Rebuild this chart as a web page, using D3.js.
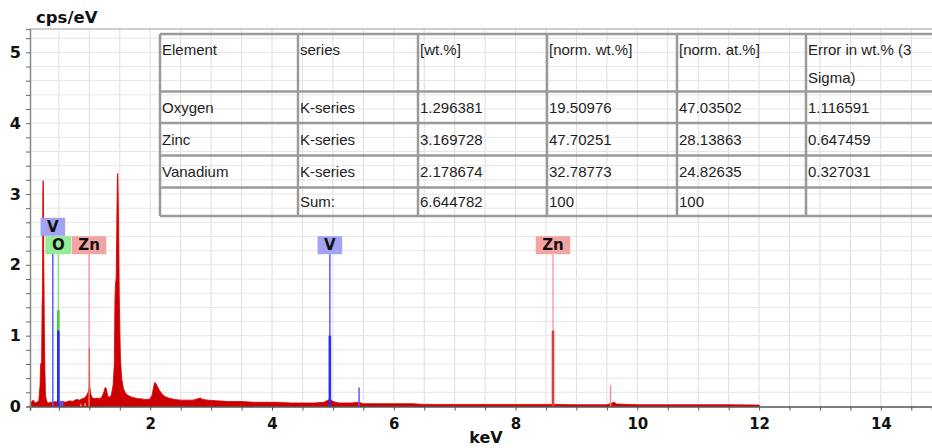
<!DOCTYPE html>
<html>
<head>
<meta charset="utf-8">
<script src="https://cdn.jsdelivr.net/npm/d3@7"></script>
<style>
  body { margin: 0; background: #fff; }
  svg { display: block; }
</style>
</head>
<body>
<div id="chart"></div>
<script>
// Spectrum (energy in keV, intensity in cps/eV)
const specKeV = [0.025, 0.05, 0.08, 0.11, 0.14, 0.17, 0.19, 0.20, 0.215, 0.225, 0.23, 0.235, 0.24, 0.245, 0.25, 0.26, 0.27, 0.28, 0.30,
  0.33, 0.36, 0.40, 0.44, 0.48, 0.52, 0.56, 0.60, 0.64, 0.68, 0.72, 0.76, 0.80, 0.84, 0.88, 0.92, 0.95, 0.98, 0.99, 0.995, 1.0, 1.005,
  1.02, 1.05, 1.09, 1.13, 1.17, 1.21, 1.24, 1.26, 1.28, 1.30, 1.33, 1.36, 1.39, 1.41, 1.42, 1.43, 1.44, 1.45, 1.46, 1.465, 1.47, 1.48,
  1.49, 1.50, 1.51, 1.53, 1.56, 1.60, 1.65, 1.70, 1.75, 1.80, 1.85, 1.90, 1.95, 2.00, 2.03, 2.05, 2.07, 2.09, 2.12, 2.15, 2.19, 2.24,
  2.30, 2.40, 2.50, 2.60, 2.70, 2.78, 2.82, 2.86, 2.95, 3.1, 3.3, 3.5, 3.7, 3.9, 4.1, 4.3, 4.5, 4.7, 4.85, 4.92, 4.96, 5.0, 5.1, 5.3,
  5.43, 5.5, 5.7, 6.0, 6.3, 6.5, 7.0, 7.5, 8.0, 8.3, 8.6, 9.0, 9.5, 9.62, 9.66, 10.0, 10.5, 11.0, 11.5, 12.0, 12.01];
const specCps = [0.02, 0.07, 0.09, 0.05, 0.06, 0.08, 0.3, 0.6, 0.62, 1.5, 1.55, 3.0, 3.19, 3.1, 2.2, 1.2, 0.5, 0.15, 0.07,
  0.05, 0.06, 0.06, 0.07, 0.06, 0.06, 0.07, 0.06, 0.07, 0.08, 0.07, 0.09, 0.1, 0.09, 0.11, 0.12, 0.15, 0.2, 0.24, 0.3, 0.82, 0.3,
  0.18, 0.12, 0.11, 0.12, 0.11, 0.14, 0.21, 0.27, 0.25, 0.15, 0.13, 0.16, 0.3, 0.6, 1.5, 1.75, 1.8, 2.5, 3.25, 3.29, 3.2, 2.6,
  1.6, 1.1, 0.7, 0.4, 0.25, 0.18, 0.15, 0.13, 0.12, 0.11, 0.11, 0.1, 0.1, 0.11, 0.16, 0.25, 0.34, 0.33, 0.28, 0.23, 0.18, 0.14,
  0.12, 0.1, 0.09, 0.09, 0.09, 0.11, 0.12, 0.1, 0.09, 0.08, 0.07, 0.07, 0.06, 0.06, 0.06, 0.05, 0.05, 0.05, 0.06, 0.09, 0.1, 0.07, 0.05, 0.05,
  0.06, 0.04, 0.04, 0.04, 0.04, 0.03, 0.03, 0.03, 0.03, 0.03, 0.03, 0.025, 0.025, 0.06, 0.035, 0.025, 0.025, 0.025, 0.025, 0.02, 0];

// Fitted element lines (energy, height)
const lineEl = ["O", "V", "V", "V", "V", "V", "Zn", "Zn", "Zn", "Zn"];
const lineKeV = [0.49, 0.49, 0.53, 0.56, 4.95, 5.43, 8.615, 9.56, 0.86, 0.93];
const lineCps = [1.36, 1.07, 0.08, 0.08, 1.0, 0.27, 1.07, 0.3, 0.04, 0.05];

// Element markers with labels (label bottom in cps/eV)
const markEl = ["V", "O", "Zn", "V", "Zn"];
const markKeV = [0.40, 0.49, 0.995, 4.95, 8.615];
const markTop = [2.41, 2.15, 2.15, 2.15, 2.15];

// Quantification table
const tableHead = [["Element"], ["series"], ["[wt.%]"], ["[norm. wt.%]"], ["[norm. at.%]"], ["Error in wt.% (3", "Sigma)"]];
const elements = ["Oxygen", "Zinc", "Vanadium", ""];
const seriesCol = ["K-series", "K-series", "K-series", "Sum:"];
const wtPct = ["1.296381", "3.169728", "2.178674", "6.644782"];
const normWt = ["19.50976", "47.70251", "32.78773", "100"];
const normAt = ["47.03502", "28.13863", "24.82635", "100"];
const errWt = ["1.116591", "0.647459", "0.327031", ""];

const width = 932, height = 448;
const plotL = 30, plotR = 932, plotT = 29, plotB = 406.5;

const elColor = { V: "#2a2aff", O: "#3ad23a", Zn: "#e03a3a" };
const elThin = { V: "#5a5aff", O: "#6ee86e", Zn: "#f29090" };
const elBox = { V: "#a3a3f5", O: "#93ec93", Zn: "#f4a3a3" };

const svg = d3.select("#chart").append("svg")
    .attr("width", width)
    .attr("height", height);

const x = d3.scaleLinear().domain([0.025, 14.84]).range([plotL, plotR]);
const y = d3.scaleLinear().domain([0, 5.33]).range([plotB, plotT]);

// grid
const grid = svg.append("g");
grid.selectAll("line.v")
    .data(d3.range(0.5, 14.9, 0.5))
    .enter().append("line")
    .attr("x1", d => x(d)).attr("x2", d => x(d))
    .attr("y1", plotT).attr("y2", plotB)
    .attr("stroke", "#dedede").attr("stroke-width", 1);
grid.selectAll("line.h")
    .data(d3.range(1, 27).map(i => i * 0.2))
    .enter().append("line")
    .attr("x1", plotL).attr("x2", plotR)
    .attr("y1", d => y(d)).attr("y2", d => y(d))
    .attr("stroke", "#e6e6e6").attr("stroke-width", 1);
svg.append("line")
    .attr("x1", plotL).attr("x2", plotR).attr("y1", plotT).attr("y2", plotT)
    .attr("stroke", "#bdbdbd").attr("stroke-width", 1.5);

// table
const colX = [160, 298, 418, 547, 677, 806, 940];
const rowY = [34, 91.5, 123, 155.5, 187.5, 216];
const table = svg.append("g")
    .style("font-family", "'Liberation Sans', Arial, sans-serif")
    .style("font-size", "15px")
    .attr("fill", "#1e1e1e");
table.selectAll("line.r").data(rowY).enter().append("line")
    .attr("x1", colX[0]).attr("x2", colX[6])
    .attr("y1", d => d).attr("y2", d => d)
    .attr("stroke", "#9a9a9a").attr("stroke-width", 2.5);
table.selectAll("line.c").data(colX).enter().append("line")
    .attr("x1", d => d).attr("x2", d => d)
    .attr("y1", rowY[0]).attr("y2", rowY[5])
    .attr("stroke", "#9a9a9a").attr("stroke-width", 2.5);
tableHead.forEach((lines, c) => {
  lines.forEach((t, k) => {
    table.append("text")
        .attr("x", colX[c] + 2).attr("y", 55 + k * 28)
        .attr("textLength", null)
        .text(t);
  });
});
const bodyCols = [elements, seriesCol, wtPct, normWt, normAt, errWt];
bodyCols.forEach((col, c) => {
  col.forEach((t, r) => {
    table.append("text")
        .attr("x", colX[c] + 2)
        .attr("y", (rowY[r + 1] + rowY[r + 2]) / 2 + 5.5)
        .text(t);
  });
});

// spectrum
const spec = specKeV.map((k, i) => ({ k: k, c: specCps[i] }));
svg.append("path")
    .datum(spec)
    .attr("fill", "#cc0000")
    .attr("stroke", "#d40000")
    .attr("stroke-width", 0.8)
    .attr("d", d3.area().x(d => x(d.k)).y0(y(0)).y1(d => y(d.c)));

// marker drop lines from labels
markEl.forEach((el, i) => {
  svg.append("line")
      .attr("x1", x(markKeV[i])).attr("x2", x(markKeV[i]))
      .attr("y1", y(markTop[i])).attr("y2", y(0))
      .attr("stroke", elThin[el]).attr("stroke-width", el === "V" ? 1.5 : 1.2);
});

// fitted element lines
lineEl.forEach((el, i) => {
  svg.append("line")
      .attr("x1", x(lineKeV[i])).attr("x2", x(lineKeV[i]))
      .attr("y1", y(lineCps[i])).attr("y2", y(0))
      .attr("stroke", lineCps[i] > 0.5 ? elColor[el] : elThin[el])
      .attr("stroke-width", lineCps[i] > 0.5 ? 2.6 : 1.5);
});

// labels
markEl.forEach((el, i) => {
  const g = svg.append("g");
  const t = g.append("text")
      .attr("x", x(markKeV[i])).attr("y", y(markTop[i]) - 4)
      .attr("text-anchor", "middle")
      .style("font-family", "'DejaVu Sans', Verdana, sans-serif")
      .style("font-weight", "bold")
      .style("font-size", "15px")
      .attr("fill", "#111")
      .text(el);
  const w = t.node().getComputedTextLength() + 13;
  g.insert("rect", "text")
      .attr("x", x(markKeV[i]) - w / 2).attr("y", y(markTop[i]) - 18)
      .attr("width", w).attr("height", 18)
      .attr("fill", elBox[el]);
});

// axes
const xAxis = svg.append("g")
    .attr("transform", `translate(0,${plotB})`)
    .call(d3.axisBottom(x)
        .tickValues(d3.range(0.5, 14.9, 0.5))
        .tickSize(4)
        .tickFormat(d => (d % 2 === 0 ? d : "")));
xAxis.select(".domain").attr("stroke", "#555").attr("stroke-width", 1.5);
xAxis.selectAll(".tick line").attr("stroke", "#555");
xAxis.selectAll(".tick text")
    .attr("dy", "1.0em")
    .style("font-family", "'DejaVu Sans', Verdana, sans-serif")
    .style("font-weight", "bold")
    .style("font-size", "15px")
    .attr("fill", "#111");

const yAxis = svg.append("g")
    .attr("transform", `translate(${plotL},0)`)
    .call(d3.axisLeft(y)
        .tickValues(d3.range(0, 27).map(i => i * 0.2))
        .tickSize(4)
        .tickFormat(d => (Math.abs(d - Math.round(d)) < 1e-6 ? Math.round(d) : "")));
yAxis.select(".domain").attr("stroke", "#8a8a8a").attr("stroke-width", 1.5);
yAxis.selectAll(".tick line").attr("stroke", "#666");
yAxis.selectAll(".tick text")
    .attr("x", -9)
    .style("font-family", "'DejaVu Sans', Verdana, sans-serif")
    .style("font-weight", "bold")
    .style("font-size", "16px")
    .attr("fill", "#111");

svg.append("text")
    .attr("x", 36).attr("y", 23)
    .style("font-family", "'DejaVu Sans', Verdana, sans-serif")
    .style("font-weight", "bold")
    .style("font-size", "16.5px")
    .attr("fill", "#111")
    .text("cps/eV");

svg.append("text")
    .attr("x", 486).attr("y", 443)
    .attr("text-anchor", "middle")
    .style("font-family", "'DejaVu Sans', Verdana, sans-serif")
    .style("font-weight", "bold")
    .style("font-size", "16px")
    .attr("fill", "#111")
    .text("keV");
</script>
</body>
</html>
